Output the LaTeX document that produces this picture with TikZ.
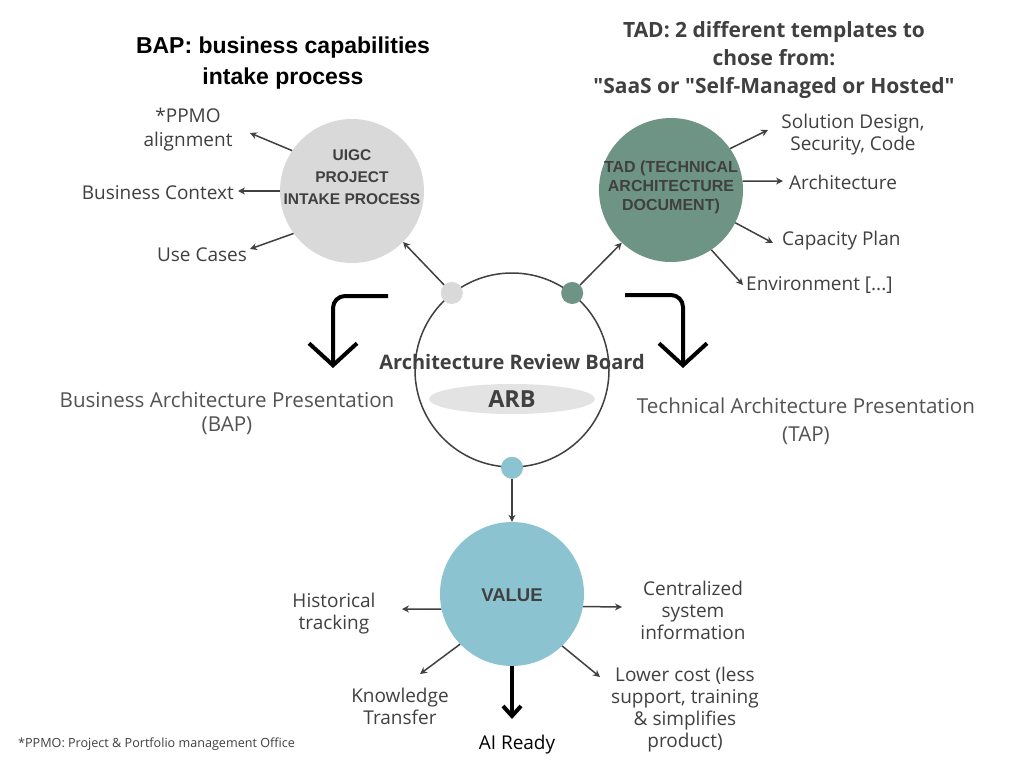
\documentclass[tikz,border=0pt]{standalone}
\usepackage{fontspec}
\setmainfont{Open Sans}
\newfontfamily\headfont{Liberation Sans}
\newfontfamily\tadfont{Open Sans}
\usetikzlibrary{arrows.meta,shapes.geometric}
\definecolor{txt}{HTML}{404040}
\definecolor{lgray}{HTML}{D9D9D9}
\definecolor{tadgreen}{HTML}{6E9485}
\definecolor{valblue}{HTML}{8BC4D0}
\definecolor{arbell}{HTML}{E3E3E3}
\tikzset{
  bigcirc/.style={circle,minimum size=144pt,inner sep=0pt},
  dotnode/.style={circle,minimum size=22pt,inner sep=0pt},
  arr/.style={draw=txt,line width=1.5pt,-{Stealth[length=7pt,width=7pt]}},
  bigarr/.style={draw=black,line width=4pt,rounded corners=12pt,-{Straight Barb[length=22pt,width=48pt,line width=4pt]}},
  lbl/.style={text=txt,align=center,inner sep=0pt,font=\fontsize{19}{22}\selectfont},
  inlbl/.style={text=txt,align=center,inner sep=0pt,font=\headfont\bfseries\fontsize{15.5}{22}\selectfont},
}
\begin{document}
\begin{tikzpicture}[x=1pt,y=-1pt]
\useasboundingbox[fill=white] (0,0) rectangle (1024,768);

% titles
\node[align=center,inner sep=0pt,font=\headfont\bfseries\fontsize{23}{31}\selectfont] (baptitle) at (283,63) {BAP: business capabilities\\intake process};
\node[align=center,inner sep=0pt,text=txt,font=\tadfont\bfseries\fontsize{21}{28}\selectfont] (tadtitle) at (774,60) {TAD: 2 different templates to\\chose from:\\"SaaS or "Self-Managed or Hosted"};

% central ARB circle
\node[circle,draw=txt,line width=1.5pt,minimum size=194pt,inner sep=0pt,fill=white] (arb) at (512,370) {};
\node[text=txt,inner sep=0pt,font=\bfseries\fontsize{20}{22}\selectfont] (arbname) at (512,362) {Architecture Review Board};
\node[ellipse,fill=arbell,minimum width=166pt,minimum height=30pt,inner sep=0pt,text=txt,font=\bfseries\fontsize{23.5}{26}\selectfont] (arbabbr) at (512,399) {ARB};

% dots on ARB
\node[dotnode,fill=lgray] (gdot) at (arb.128) {};
\node[dotnode,fill=tadgreen] (tdot) at (arb.52) {};
\node[dotnode,fill=valblue] (vdot) at (arb.south) {};

% UIGC circle
\node[bigcirc,fill=lgray] (uigc) at (352,191) {};
\node[inlbl] (uigctext) at (352,177) {UIGC\\PROJECT\\INTAKE PROCESS};

% TAD circle
\node[bigcirc,fill=tadgreen] (tad) at (671,190) {};
\node[inlbl,font=\headfont\bfseries\fontsize{16}{19}\selectfont] (tadtext) at (671,187) {TAD (TECHNICAL\\ARCHITECTURE\\DOCUMENT)};

% VALUE circle
\node[bigcirc,fill=valblue] (value) at (512,594) {};
\node[inlbl,font=\headfont\bfseries\fontsize{18.5}{22}\selectfont] (valtext) at (512,595) {VALUE};

% connectors from dots
\draw[arr] (gdot) -- (uigc.315);
\draw[arr] (tdot) -- (tad.227);
\draw[arr] (vdot) -- (value.north);

% UIGC labels
\node[lbl,font=\fontsize{19}{24}\selectfont] (ppmo) at (188,130) {*PPMO\\alignment};
\node[lbl,anchor=east] (bctx) at (234,193) {Business Context};
\node[lbl] (usec) at (202,255) {Use Cases};
\coordinate (ppmoE) at (250,133);
\coordinate (bctxE) at (238,191);
\coordinate (usecE) at (250,249);
\draw[arr] (uigc.146) -- (ppmoE);
\draw[arr] (uigc.west) -- (bctxE);
\draw[arr] (uigc.216) -- (usecE);

% TAD labels
\node[lbl] (soldes) at (853,135) {Solution Design,\\Security, Code};
\node[lbl,anchor=west] (archl) at (789,182) {Architecture};
\node[lbl,anchor=west] (capl) at (782,241) {Capacity Plan};
\node[lbl,anchor=west] (envl) at (746,285) {Environment [...]};
\coordinate (soldesE) at (768,130);
\coordinate (archE) at (783,181);
\coordinate (capE) at (773,243);
\coordinate (envE) at (743,285);
\draw[arr] (tad.35) -- (soldesE);
\draw[arr] (tad.7) -- (archE);
\draw[arr] (tad.-27) -- (capE);
\draw[arr] (tad.-56) -- (envE);

% VALUE labels
\node[lbl] (hist) at (334,614) {Historical\\tracking};
\node[lbl] (cent) at (693,610) {Centralized\\system\\information};
\node[lbl] (know) at (400,706) {Knowledge\\Transfer};
\node[lbl] (lower) at (685,710) {Lower cost (less\\support, training\\\& simplifies\\product)};
\node[lbl,text=black] (aiready) at (517,745) {AI Ready};
\coordinate (histE) at (402,609);
\coordinate (centE) at (622,607);
\coordinate (knowE) at (420,674);
\coordinate (lowerE) at (600,677);
\coordinate (aiE) at (512,719);
\draw[arr] (value.192) -- (histE);
\draw[arr] (value.350) -- (centE);
\draw[arr] (value.224) -- (knowE);
\draw[arr] (value.314) -- (lowerE);
\draw[draw=black,line width=4pt,-{Straight Barb[length=10pt,width=18pt,line width=4pt]}] (value.south) -- (aiE);

% big bent arrows
\coordinate (lbS) at (388,296);
\coordinate (lbC) at (333,296);
\coordinate (lbE) at (333,368);
\coordinate (rbS) at (625,295);
\coordinate (rbC) at (683,295);
\coordinate (rbE) at (683,368);
\draw[bigarr] (lbS) -- (lbC) -- (lbE);
\draw[bigarr] (rbS) -- (rbC) -- (rbE);

% presentation labels
\node[lbl,text=txt!90,font=\fontsize{20.6}{24}\selectfont] (bap) at (227,413) {Business Architecture Presentation\\(BAP)};
\node[lbl,text=txt!90,font=\fontsize{20.6}{28}\selectfont] (tap) at (806,421) {Technical Architecture Presentation\\(TAP)};

% footnote
\node[anchor=west,inner sep=0pt,text=txt,font=\fontsize{12.6}{14}\selectfont] (foot) at (18,744) {*PPMO: Project \& Portfolio management Office};
\end{tikzpicture}
\end{document}
